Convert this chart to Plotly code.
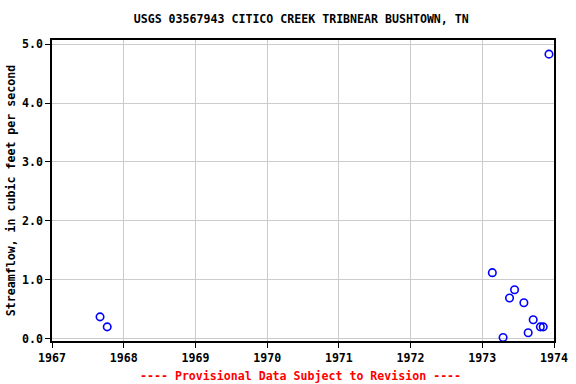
import plotly.graph_objects as go

years = [1967.67, 1967.77, 1973.14, 1973.29, 1973.38, 1973.45, 1973.58, 1973.64, 1973.71, 1973.81, 1973.85, 1973.93]
flow = [0.37, 0.20, 1.12, 0.02, 0.69, 0.83, 0.61, 0.10, 0.32, 0.20, 0.20, 4.83]
xticks = [1967, 1968, 1969, 1970, 1971, 1972, 1973, 1974]
yticks = [0, 1, 2, 3, 4, 5]
ytick_labels = ["0.0", "1.0", "2.0", "3.0", "4.0", "5.0"]

font = "DejaVu Sans Mono"
fs = 11.6

fig = go.Figure()
fig.add_trace(go.Scatter(
    x=years, y=flow, mode="markers",
    marker=dict(symbol="circle-open", size=7.5, color="blue", line=dict(width=1.6, color="blue")),
    showlegend=False,
))

fig.update_layout(
    width=576, height=384,
    margin=dict(l=52, r=22, t=40, b=43, autoexpand=False),
    paper_bgcolor="white", plot_bgcolor="white",
    title=dict(text="<b>USGS 03567943 CITICO CREEK TRIBNEAR BUSHTOWN, TN</b>",
               x=0.523, xanchor="center", y=0.95, yanchor="middle",
               font=dict(family=font, size=fs, color="black")),
    font=dict(family=font, size=fs, color="black"),
)
fig.update_xaxes(
    range=[1967, 1974], tickvals=xticks, ticktext=[f"<b>{v}</b>" for v in xticks],
    showgrid=True, gridcolor="#cccccc", gridwidth=1,
    showline=True, linecolor="black", linewidth=1.5, mirror=True,
    ticks="outside", ticklen=5, tickcolor="black",
    tickfont=dict(family=font, size=fs, color="black"),
    zeroline=False, automargin=False,
)
fig.update_yaxes(
    range=[-0.04, 5.07], tickvals=yticks, ticktext=[f"<b>{t}</b>" for t in ytick_labels],
    showgrid=True, gridcolor="#cccccc", gridwidth=1,
    showline=True, linecolor="black", linewidth=1.5, mirror=True,
    ticks="outside", ticklen=5, tickcolor="black",
    tickfont=dict(family=font, size=fs, color="black"),
    title=dict(text="<b>Streamflow, in cubic feet per second</b>", font=dict(family=font, size=fs, color="black"), standoff=4),
    zeroline=False, automargin=False,
)

fig.add_annotation(
    text="<b>---- Provisional Data Subject to Revision ----</b>",
    xref="paper", yref="paper", x=0.496, y=-0.115, xanchor="center", yanchor="middle",
    showarrow=False, font=dict(family=font, size=fs, color="red"),
)

fig.write_html("out.html")
